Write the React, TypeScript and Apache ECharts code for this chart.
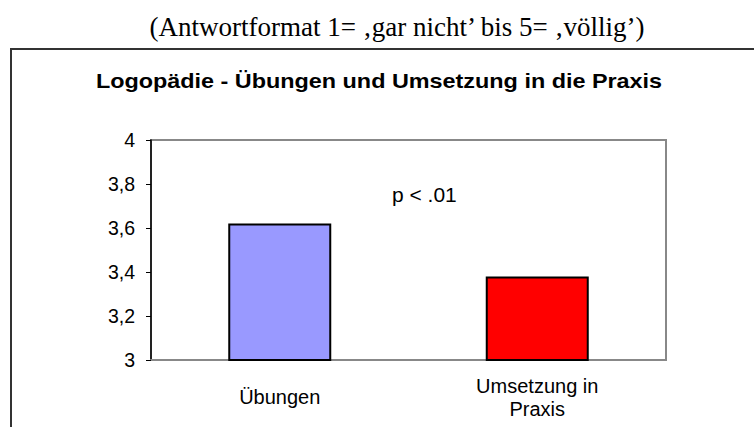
import React, { useEffect, useRef } from "react";
import * as echarts from "echarts";

const categories = ["Übungen", "Umsetzung in\nPraxis"];
const values = [3.62, 3.38];
const barColors = ["#9999FF", "#FF0000"];
const yMin = 3;
const yMax = 4;
const yStep = 0.2;
const titleText = "Logopädie - Übungen und Umsetzung in die Praxis";
const subtitleText = "(Antwortformat 1= ‚gar nicht’ bis 5= ‚völlig’)";
const noteText = "p < .01";

const SANS = "'Liberation Sans', Arial, sans-serif";
const SERIF = "'Liberation Serif', 'Times New Roman', serif";

export default function App() {
  const ref = useRef<HTMLDivElement>(null);
  useEffect(() => {
    if (!ref.current) return;
    const chart = echarts.init(ref.current, null, { renderer: "svg" });
    chart.setOption({
      animation: false,
      backgroundColor: "#ffffff",
      graphic: [
        {
          type: "text",
          x: 397,
          y: 27,
          scaleX: 1.02,
          style: {
            text: subtitleText,
            fontFamily: SERIF,
            fontSize: 26.5,
            fill: "#000",
            align: "center",
            verticalAlign: "middle",
          },
        },
        {
          type: "rect",
          shape: { x: 11, y: 49, width: 800, height: 420 },
          style: { fill: "none", stroke: "#333", lineWidth: 2 },
          silent: true,
        },
        {
          type: "text",
          x: 379,
          y: 82,
          scaleX: 1.2,
          style: {
            text: titleText,
            fontFamily: SANS,
            fontSize: 19.5,
            fontWeight: "bold",
            fill: "#000",
            align: "center",
            verticalAlign: "middle",
          },
        },
        {
          type: "text",
          x: 392,
          y: 195,
          scaleX: 1.05,
          style: {
            text: noteText,
            fontFamily: SANS,
            fontSize: 20,
            fill: "#000",
            align: "left",
            verticalAlign: "middle",
          },
        },
      ],
      grid: {
        left: 151,
        top: 140,
        right: 88,
        bottom: 67,
        show: true,
        borderColor: "#888",
        borderWidth: 2,
        backgroundColor: "transparent",
      },
      xAxis: {
        type: "category",
        data: categories,
        axisLine: { show: true, lineStyle: { color: "#888", width: 2 } },
        axisTick: { show: false },
        axisLabel: {
          fontFamily: SANS,
          fontSize: 20,
          color: "#000",
          lineHeight: 23,
          margin: 37,
          verticalAlign: "middle",
          interval: 0,
        },
      },
      yAxis: {
        type: "value",
        min: yMin,
        max: yMax,
        interval: yStep,
        axisLine: { show: true, lineStyle: { color: "#000", width: 1.5 } },
        axisTick: { show: true, length: 5, lineStyle: { color: "#000", width: 1 } },
        splitLine: { show: false },
        axisLabel: {
          fontFamily: SANS,
          fontSize: 19.5,
          color: "#000",
          margin: 16,
          formatter: (v: number) => String(Math.round(v * 10) / 10).replace(".", ","),
        },
      },
      series: [
        {
          type: "bar",
          barWidth: "40%",
          data: values.map((v, i) => ({
            value: v,
            itemStyle: { color: barColors[i], borderColor: "#000", borderWidth: 2 },
          })),
        },
      ],
    });
    return () => chart.dispose();
  }, []);
  return (
    <div
      ref={ref}
      style={{ position: "fixed", left: 0, top: 0, width: 754, height: 427 }}
    />
  );
}
